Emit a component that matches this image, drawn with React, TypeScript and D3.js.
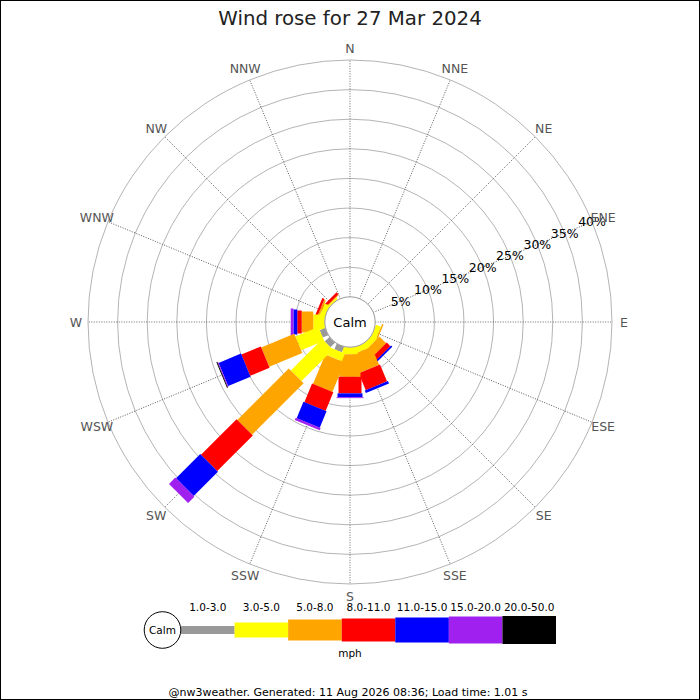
import { useEffect, useRef } from "react";
import * as d3 from "d3";

const directions = ["N", "NNE", "NE", "ENE", "E", "ESE", "SE", "SSE", "S", "SSW", "SW", "WSW", "W", "WNW", "NW", "NNW"];
const speedBands = ["1.0-3.0", "3.0-5.0", "5.0-8.0", "8.0-11.0", "11.0-15.0", "15.0-20.0", "20.0-50.0"];

// % of the day in each speed band, per direction (N .. NNW)
const mph1to3 = [0, 0, 0, 0, 0, 0, 0, 0, 0, 1.0, 1.1, 1.0, 0, 0, 0, 0];
const mph3to5 = [0, 0, 0, 0, 0, 0.9, 1.0, 1.0, 1.2, 1.4, 7.5, 4.2, 1.95, 0.9, 0.3, 0];
const mph5to8 = [0, 0, 0, 0, 0, 0.25, 1.6, 3.3, 3.8, 5.4, 12.3, 6.05, 1.95, 0.3, 0.15, 0];
const mph8to11 = [0, 0, 0, 0, 0, 0, 0.85, 3.1, 2.8, 3.4, 8.5, 3.55, 0.75, 0.4, 0.45, 0];
const mph11to15 = [0, 0, 0, 0, 0, 0, 0.3, 0.45, 0.65, 3.0, 5.8, 4.1, 0.65, 0, 0, 0];
const mph15to20 = [0, 0, 0, 0, 0, 0, 0, 0, 0.15, 0.4, 1.5, 0.15, 0.46, 0, 0, 0];
const mph20to50 = [0, 0, 0, 0, 0, 0, 0, 0, 0, 0, 0, 0.15, 0, 0, 0, 0];

const percentTicks = [5, 10, 15, 20, 25, 30, 35, 40];
const titleText = "Wind rose for 27 Mar 2024";
const footerText = "@nw3weather. Generated: 11 Aug 2026 08:36; Load time: 1.01 s";

const bandColors = ["#999999", "#ffff00", "#ffa500", "#ff0000", "#0000ff", "#a020f0", "#000000"];
const bandWeights = [8, 15, 21, 23, 25, 27, 28];

const App = () => {
  const svgRef = useRef<SVGSVGElement>(null);

  useEffect(() => {
    const width = 700;
    const height = 700;
    const cx = 350;
    const cy = 322;
    const calmR = 25.2;
    const outerR = 262;
    const font = "DejaVu Sans, Verdana, sans-serif";
    const bands = [mph1to3, mph3to5, mph5to8, mph8to11, mph11to15, mph15to20, mph20to50];

    const svg = d3.select(svgRef.current);
    svg.selectAll("*").remove();
    svg.attr("width", width).attr("height", height).attr("viewBox", [0, 0, width, height]);

    svg.append("rect").attr("width", width).attr("height", height).attr("fill", "#fff");

    // radial scale: percentages start at the calm circle
    const r = d3.scaleLinear().domain([0, 40]).range([calmR, outerR]);
    const bearing = d3.scalePoint().domain(directions).range([0, 337.5]);

    const rose = svg.append("g").attr("transform", `translate(${cx},${cy})`);

    // grid circles
    rose.append("g")
      .selectAll("circle")
      .data(percentTicks)
      .join("circle")
      .attr("r", (d) => r(d))
      .attr("fill", "none")
      .attr("stroke", "#b4b4b4")
      .attr("stroke-width", 1);

    // direction spokes
    rose.append("g")
      .selectAll("line")
      .data(directions)
      .join("line")
      .attr("transform", (d) => `rotate(${bearing(d)! - 90})`)
      .attr("x1", calmR)
      .attr("x2", outerR)
      .attr("stroke", "#444")
      .attr("stroke-width", 0.8)
      .attr("stroke-dasharray", "1,1.5");

    // legs, shortest first so the longer legs lie on top
    const totals = directions.map((d, i) => d3.sum(bands, (b) => b[i]));
    const order = d3.range(16).sort((a, b) => totals[a] - totals[b]);
    const legs = rose.append("g");
    order.forEach((di) => {
      const vals = bands.map((b) => b[di]);
      const cum = [0, ...d3.cumsum(vals)];
      const leg = legs.append("g").attr("transform", `rotate(${bearing(directions[di])! - 90})`);
      leg.selectAll("rect")
        .data(vals.map((v, k) => ({ v, k, c0: cum[k], c1: cum[k + 1] })).filter((s) => s.v > 0))
        .join("rect")
        .attr("x", (s) => r(s.c0))
        .attr("width", (s) => r(s.c1) - r(s.c0))
        .attr("y", (s) => -bandWeights[s.k] / 2)
        .attr("height", (s) => bandWeights[s.k])
        .attr("fill", (s) => bandColors[s.k]);
    });

    // calm circle
    rose.append("circle").attr("r", calmR).attr("fill", "#fff").attr("stroke", "#999");
    rose.append("text")
      .attr("text-anchor", "middle")
      .attr("dy", "0.36em")
      .attr("font-family", font)
      .attr("font-size", 13)
      .text("Calm");

    // percent labels along 22.5 degrees above east
    const a = (22.5 * Math.PI) / 180;
    rose.append("g")
      .selectAll("text")
      .data(percentTicks)
      .join("text")
      .attr("x", (d) => r(d) * Math.cos(a))
      .attr("y", (d) => -r(d) * Math.sin(a))
      .attr("dy", "0.36em")
      .attr("text-anchor", "middle")
      .attr("font-family", font)
      .attr("font-size", 12.5)
      .attr("fill", "#000")
      .text((d) => `${d}%`);

    // compass labels
    rose.append("g")
      .selectAll("text")
      .data(directions)
      .join("text")
      .attr("x", (d) => 274 * Math.sin((bearing(d)! * Math.PI) / 180))
      .attr("y", (d) => -274 * Math.cos((bearing(d)! * Math.PI) / 180))
      .attr("dy", "0.36em")
      .attr("text-anchor", "middle")
      .attr("font-family", font)
      .attr("font-size", 12.5)
      .attr("fill", "#555")
      .text((d) => d);

    // title
    svg.append("text")
      .attr("x", width / 2)
      .attr("y", 25)
      .attr("text-anchor", "middle")
      .attr("font-family", font)
      .attr("font-size", 19.8)
      .attr("fill", "#222")
      .text(titleText);

    // legend
    const lx = d3.scaleBand().domain(speedBands).range([181, 556]);
    const ly = 630;
    const legend = svg.append("g");
    legend.selectAll("rect")
      .data(speedBands)
      .join("rect")
      .attr("x", (d) => lx(d)!)
      .attr("width", lx.bandwidth())
      .attr("y", (d, i) => ly - bandWeights[i] / 2)
      .attr("height", (d, i) => bandWeights[i])
      .attr("fill", (d, i) => bandColors[i]);
    legend.selectAll("text.band")
      .data(speedBands)
      .join("text")
      .attr("class", "band")
      .attr("x", (d) => lx(d)! + lx.bandwidth() / 2)
      .attr("y", 611)
      .attr("text-anchor", "middle")
      .attr("font-family", font)
      .attr("font-size", 10.5)
      .text((d) => d);
    legend.append("circle")
      .attr("cx", 162.5)
      .attr("cy", ly)
      .attr("r", 18.3)
      .attr("fill", "#fff")
      .attr("stroke", "#000");
    legend.append("text")
      .attr("x", 162.5)
      .attr("y", ly)
      .attr("dy", "0.36em")
      .attr("text-anchor", "middle")
      .attr("font-family", font)
      .attr("font-size", 10.5)
      .text("Calm");
    legend.append("text")
      .attr("x", 350)
      .attr("y", 657)
      .attr("text-anchor", "middle")
      .attr("font-family", font)
      .attr("font-size", 10.5)
      .text("mph");

    // footer
    svg.append("text")
      .attr("x", 348)
      .attr("y", 696)
      .attr("text-anchor", "middle")
      .attr("font-family", font)
      .attr("font-size", 11)
      .text(footerText);

    // frame
    svg.append("rect")
      .attr("x", 0.5)
      .attr("y", 0.5)
      .attr("width", width - 1)
      .attr("height", height - 1)
      .attr("fill", "none")
      .attr("stroke", "#000");
  }, []);

  return (
    <div style={{ position: "fixed", left: 0, top: 0 }}>
      <svg ref={svgRef} style={{ display: "block" }} />
    </div>
  );
};

export default App;
